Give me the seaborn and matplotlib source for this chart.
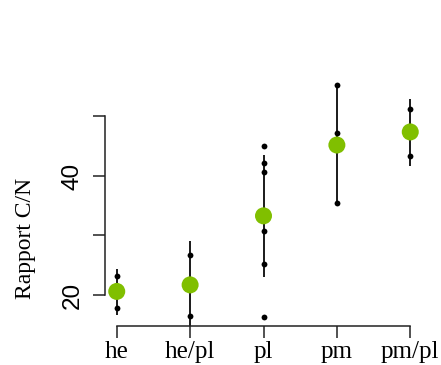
import numpy as np
import pandas as pd
import matplotlib
matplotlib.use("Agg")
import matplotlib.pyplot as plt
import seaborn as sns

sns.set_theme(style="white")
plt.rcParams['font.family'] = ['Liberation Serif', 'DejaVu Serif']
plt.rcParams['text.color'] = 'black'
plt.rcParams['xtick.color'] = 'black'
plt.rcParams['ytick.color'] = 'black'
plt.rcParams['axes.labelcolor'] = 'black'

# valeurs
categories = ['he', 'he/pl', 'pl', 'pm', 'pm/pl']
pts_he = [23.2, 17.8]
pts_hepl = [26.8, 16.4]
pts_pl = [45.0, 42.2, 40.6, 30.8, 25.2, 16.3]
pts_pm = [55.3, 47.2, 35.4]
pts_pmpl = [51.2, 43.4]
moyennes = [20.6, 21.7, 33.3, 45.2, 47.4]
barre_bas = [16.6, 14.3, 23.1, 35.4, 41.7]
barre_haut = [24.4, 29.0, 43.6, 55.3, 52.9]

# tableau long pour les points individuels
groupes = [pts_he, pts_hepl, pts_pl, pts_pm, pts_pmpl]
df = pd.DataFrame({
    'type': np.repeat(categories, [len(g) for g in groupes]),
    'CN': np.concatenate(groupes),
})
df['type'] = pd.Categorical(df['type'], categories=categories, ordered=True)
df_moy = pd.DataFrame({'type': categories, 'CN': moyennes})

fig = plt.figure(figsize=(4.41, 3.65), dpi=100)
ax = fig.add_axes([105 / 441, 39 / 365, 317 / 441, 250 / 365])

xpos = np.arange(len(categories))
ax.vlines(xpos, barre_bas, barre_haut, color='#1a1a1a', lw=1.4, zorder=1)
sns.stripplot(data=df, x='type', y='CN', order=categories, jitter=False,
              color='black', size=4.2, ax=ax, zorder=2)
sns.scatterplot(data=df_moy, x='type', y='CN', color='#80bf00', s=150,
                edgecolor='none', ax=ax, zorder=3)

ax.set_xlim(-0.16, 4.16)
ax.set_ylim(14.79, 56.8)

ax.set_yticks([20, 30, 40, 50])
ax.set_yticklabels(['20', '', '40', ''], rotation=90, va='center',
                   family='Liberation Sans', fontsize=17.5)
ax.set_xticks(xpos)
ax.set_xticklabels(categories, fontsize=18)

for s in ['top', 'right']:
    ax.spines[s].set_visible(False)
ax.spines['left'].set_bounds(20, 50)
ax.spines['bottom'].set_bounds(0, 4)
for s in ['left', 'bottom']:
    ax.spines[s].set_color('#222222')
    ax.spines[s].set_linewidth(1.1)
ax.tick_params(axis='both', length=8.6, width=1.1, color='#222222',
               left=True, bottom=True)
ax.tick_params(axis='y', pad=7)
ax.tick_params(axis='x', pad=2.5)

ax.set_xlabel('')
ax.set_ylabel('Rapport C/N', fontsize=17)
ax.yaxis.set_label_coords(-0.25, 0.352)
ax.yaxis.label.set_va('center')
ax.grid(False)

fig.savefig('out.png', dpi=100)
